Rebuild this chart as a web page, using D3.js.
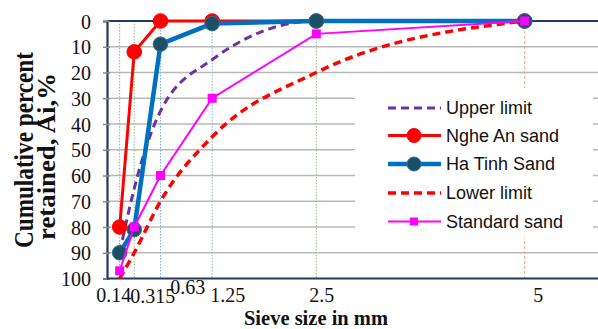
<!DOCTYPE html>
<html>
<head>
<meta charset="utf-8">
<script src="https://cdn.jsdelivr.net/npm/d3@7"></script>
<style>
  html, body { margin: 0; padding: 0; background: #fff; }
  svg { display: block; }
</style>
</head>
<body>
<svg id="chart" width="598" height="329"></svg>
<script>
// Sieve sizes (mm) and the tick labels written under them
const sieveSizes = [0.14, 0.315, 0.63, 1.25, 2.5, 5];
const sieveLabels = ["0.14", "0.315", "0.63", "1.25", "2.5", "5"];

// Cumulative percent retained on each sieve
const upperLimit   = [90, 65, 35, 15, 0, 0];
const ngheAnSand   = [80, 12, 0, 0, 0, 0];
const haTinhSand   = [90, 81, 9, 1, 0, 0];
const lowerLimit   = [100, 90, 70, 45, 20, 0];
const standardSand = [97, 80, 60, 30, 5, 0];

const seriesNames = ["Upper limit", "Nghe An sand", "Ha Tinh Sand", "Lower limit", "Standard sand"];
const yTickValues = d3.range(0, 101, 10);

// label nudges so the hand-placed sieve labels sit where they do
const labelShiftX = [-6.5, 18, 26.7, 15, 5, 13];
const labelShiftY = [0, 1, -8, 0, 0, 0];
// colours of the vertical guide lines at each sieve
const guideColors = ["#a6a6a6", "#8fc27a", "#7fb2d8", "#7fb2d8", "#8fc27a", "#f0a878"];

const svg = d3.select("#chart");
const W = 598, H = 329;
const plotLeft = 108, plotTop = 21, plotBottom = 278.5;

const x = d3.scaleLinear().domain([0, 6]).range([plotLeft, plotLeft + 500]);
const y = d3.scaleLinear().domain([0, 100]).range([plotTop, plotBottom]);

const navy = "#1f3b5c";
const serif = "'Liberation Serif', 'Times New Roman', serif";
const sans = "'Liberation Sans', Arial, sans-serif";

// horizontal gridlines
svg.append("g")
  .selectAll("line")
  .data(yTickValues.filter(v => v > 0 && v < 100))
  .join("line")
  .attr("x1", plotLeft).attr("x2", W)
  .attr("y1", d => y(d)).attr("y2", d => y(d))
  .attr("stroke", "#b8b8b8").attr("stroke-width", 1.6);

// vertical guide lines at the sieve sizes
svg.append("g")
  .selectAll("line")
  .data(sieveSizes)
  .join("line")
  .attr("x1", d => x(d)).attr("x2", d => x(d))
  .attr("y1", plotTop).attr("y2", plotBottom)
  .attr("stroke", (d, i) => guideColors[i])
  .attr("stroke-width", 1)
  .attr("stroke-dasharray", (d, i) => i === 5 ? "3,2" : "1.5,1.5");

// top border of the plot area
svg.append("line")
  .attr("x1", plotLeft).attr("x2", W)
  .attr("y1", plotTop).attr("y2", plotTop)
  .attr("stroke", navy).attr("stroke-width", 2);

// y axis
const yAxis = svg.append("g")
  .attr("transform", `translate(${plotLeft - 1},0)`)
  .call(d3.axisLeft(y).tickValues(yTickValues).tickSize(4).tickPadding(12));
yAxis.select(".domain").attr("stroke", navy).attr("stroke-width", 2.2);
yAxis.selectAll(".tick line").attr("x1", 3).attr("x2", -4).attr("stroke", "#8a8a8a").attr("stroke-width", 1.5);
yAxis.selectAll(".tick text")
  .attr("font-family", serif).attr("font-size", 20).attr("fill", "#111")
  .attr("dy", "0.36em");

// x axis
const xAxis = svg.append("g")
  .attr("transform", `translate(0,${plotBottom})`)
  .call(d3.axisBottom(x).tickValues(sieveSizes).tickFormat((d, i) => sieveLabels[i]).tickSize(0));
xAxis.select(".domain").attr("stroke", navy).attr("stroke-width", 2.2)
  .attr("d", `M${plotLeft - 1},0H${W}`);
xAxis.selectAll(".tick text")
  .attr("font-family", serif).attr("font-size", 20).attr("fill", "#111")
  .attr("dy", 0)
  .attr("x", (d, i) => labelShiftX[i])
  .attr("y", (d, i) => 23 + labelShiftY[i]);

// axis titles
svg.append("text")
  .attr("x", 316).attr("y", 324.5)
  .attr("text-anchor", "middle")
  .attr("font-family", serif).attr("font-size", 20.5).attr("font-weight", "bold")
  .attr("fill", "#111")
  .text("Sieve size in mm");

svg.append("text")
  .attr("transform", "translate(33,150) rotate(-90)")
  .attr("text-anchor", "middle")
  .attr("font-family", serif).attr("font-size", 28).attr("font-weight", "bold")
  .attr("fill", "#111")
  .attr("textLength", 196).attr("lengthAdjust", "spacingAndGlyphs")
  .text("Cumulative percent");
svg.append("text")
  .attr("transform", "translate(55,156.5) rotate(-90)")
  .attr("text-anchor", "middle")
  .attr("font-family", serif).attr("font-size", 25).attr("font-weight", "bold")
  .attr("fill", "#111")
  .attr("textLength", 167).attr("lengthAdjust", "spacingAndGlyphs")
  .text("retained,  Ai,%");

// series definitions
const series = [
  { name: seriesNames[0], values: upperLimit, color: "#7030a0", width: 3, dash: "8,5", curve: d3.curveMonotoneX, marker: null },
  { name: seriesNames[1], values: ngheAnSand, color: "#ff0000", width: 3, dash: null, curve: d3.curveLinear, marker: "circle", mFill: "#ff0000", mStroke: "#ff0000" },
  { name: seriesNames[2], values: haTinhSand, color: "#0070c0", width: 4.5, dash: null, curve: d3.curveLinear, marker: "circle", mFill: "#1b4f66", mStroke: "#2f6f94" },
  { name: seriesNames[3], values: lowerLimit, color: "#ff0000", width: 3.5, dash: "8,5", curve: d3.curveMonotoneX, marker: null },
  { name: seriesNames[4], values: standardSand, color: "#ff00ff", width: 2, dash: null, curve: d3.curveLinear, marker: "square", mFill: "#ff00ff", mStroke: "#ff00ff" }
];

const plot = svg.append("g");
series.forEach(s => {
  const pts = sieveSizes.map((d, i) => [d, s.values[i]]);
  const line = d3.line().x(d => x(d[0])).y(d => y(d[1])).curve(s.curve);
  const g = plot.append("g");
  g.append("path")
    .attr("d", line(pts))
    .attr("fill", "none")
    .attr("stroke", s.color)
    .attr("stroke-width", s.width)
    .attr("stroke-dasharray", s.dash);
  if (s.marker === "circle") {
    g.selectAll("circle").data(pts).join("circle")
      .attr("cx", d => x(d[0])).attr("cy", d => y(d[1]))
      .attr("r", 7.3)
      .attr("fill", s.mFill).attr("stroke", s.mStroke).attr("stroke-width", 1);
  } else if (s.marker === "square") {
    g.selectAll("rect").data(pts).join("rect")
      .attr("x", d => x(d[0]) - 4.5).attr("y", d => y(d[1]) - 4.5)
      .attr("width", 9).attr("height", 9)
      .attr("fill", s.mFill);
  }
});

// legend
const legend = svg.append("g");
legend.append("rect")
  .attr("x", 355).attr("y", 88).attr("width", 238).attr("height", 150)
  .attr("fill", "#fff");
const rowY = [108, 135.5, 164, 193, 221.5];
series.forEach((s, i) => {
  const gy = rowY[i];
  const g = legend.append("g");
  g.append("line")
    .attr("x1", 388).attr("x2", 441).attr("y1", gy).attr("y2", gy)
    .attr("stroke", s.color).attr("stroke-width", s.width)
    .attr("stroke-dasharray", s.dash);
  if (s.marker === "circle") {
    g.append("circle").attr("cx", 414).attr("cy", gy).attr("r", 7)
      .attr("fill", s.mFill).attr("stroke", s.mStroke).attr("stroke-width", 1);
  } else if (s.marker === "square") {
    g.append("rect").attr("x", 410).attr("y", gy - 4).attr("width", 8).attr("height", 8)
      .attr("fill", s.mFill);
  }
  g.append("text")
    .attr("x", 446).attr("y", gy).attr("dy", "0.35em")
    .attr("font-family", sans).attr("font-size", 18).attr("fill", "#111")
    .text(s.name);
});
</script>
</body>
</html>
